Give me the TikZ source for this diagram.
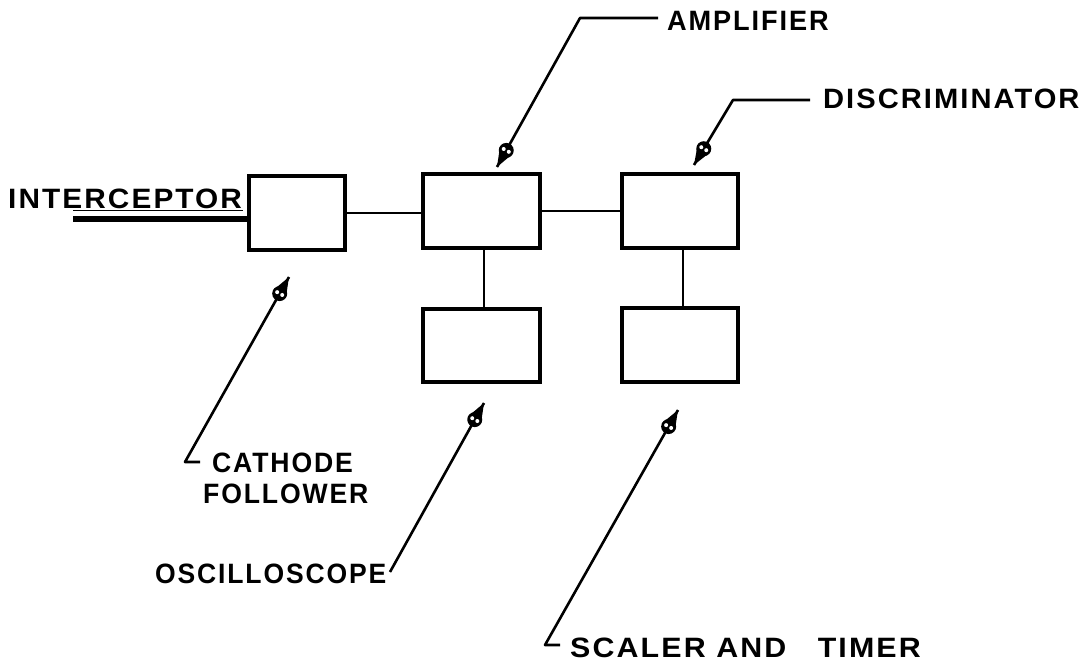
\documentclass[tikz,border=0pt]{standalone}
\usepackage{fontspec}
\usepackage{graphicx}
\newfontfamily\lbl[LetterSpace=7]{Liberation Sans Bold}
\usetikzlibrary{calc}
\tikzset{
  blk/.style={draw, line width=3.4pt, minimum width=#1, minimum height=74pt, inner sep=0pt},
  wire/.style={line width=2.8pt},
  lead/.style={line width=2.6pt, line join=round},
  lbltext/.style={inner sep=0pt, font=\lbl\fontsize{28}{32}\selectfont},
}
\newcommand{\pointer}[2]{%
  \coordinate (pc) at ($(#2)!19pt!(#1)$);
  \fill (pc) circle (7.5pt);
  \fill (#2) -- ($(pc)!7.2pt!90:(#2)$) -- ($(pc)!7.2pt!-90:(#2)$) -- cycle;
  \fill[white] ($(pc)!2.9pt!90:(#2)$) circle (2pt);
  \fill[white] ($(pc)!2.9pt!-90:(#2)$) circle (2pt);
}
\begin{document}
\begin{tikzpicture}[x=1pt,y=-1pt]
\useasboundingbox[fill=white] (0,0) rectangle (1090,672);
% blocks
\node[blk=96pt]  (cf)   at (297,213)   {};
\node[blk=117pt] (amp)  at (481.5,211) {};
\node[blk=116pt] (disc) at (680,211)   {};
\node[blk=117pt, minimum height=73pt] (osc) at (481.5,345.5) {};
\node[blk=116pt] (sc)   at (680,345)   {};
% connections
\draw[wire] (cf.east) -- (amp.west |- cf.east);
\draw[wire] (amp.east) -- (disc.west);
\draw[wire] ([xshift=2.5pt]amp.south) -- ([xshift=2.5pt]osc.north);
\draw[wire] ([xshift=3pt]disc.south) -- ([xshift=3pt]sc.north);
% interceptor
\node[lbltext, anchor=base west] (tint) at (8,208) {\scalebox{1.064}[1]{INTERCEPTOR}};
\coordinate (ic) at (73,219);
\draw[line width=5.5pt] (ic) -- (ic -| cf.west);
\coordinate (ul) at (73,210.5);
\draw[line width=1.8pt] (ul) -- (243,210.5);
% labels
\node[lbltext, anchor=base west] (tamp)  at (667,30)  {\scalebox{0.97}[1]{AMPLIFIER}};
\node[lbltext, anchor=base west] (tdisc) at (823,108) {\scalebox{1.04}[1]{DISCRIMINATOR}};
\node[lbltext, anchor=base west] (tcat)  at (212,472) {\scalebox{0.95}[1]{CATHODE}};
\node[lbltext, anchor=base west] (tfol)  at (203,503) {\scalebox{0.95}[1]{FOLLOWER}};
\node[lbltext, anchor=base west] (tosc)  at (155,583) {\scalebox{0.947}[1]{OSCILLOSCOPE}};
\node[lbltext, anchor=base west] (tsc)   at (570,657) {\scalebox{1.085}[1]{SCALER AND\hspace*{29pt}TIMER}};
% leaders
\coordinate (a1) at (658,18);  \coordinate (a2) at (580,18);  \coordinate (at) at (497,167);
\coordinate (d1) at (810,100); \coordinate (d2) at (733,100); \coordinate (dt) at (694,165);
\coordinate (c1) at (200,462); \coordinate (c2) at (185,462); \coordinate (ct) at (289,277);
\coordinate (o2) at (390,572); \coordinate (ot) at (484,403);
\coordinate (s1) at (560,645); \coordinate (s2) at (545,645); \coordinate (st) at (678,410);
\draw[lead] (a1) -- (a2) -- (at); \pointer{a2}{at}
\draw[lead] (d1) -- (d2) -- (dt); \pointer{d2}{dt}
\draw[lead] (c1) -- (c2) -- (ct); \pointer{c2}{ct}
\draw[lead] (o2) -- (ot); \pointer{o2}{ot}
\draw[lead] (s1) -- (s2) -- (st); \pointer{s2}{st}
\end{tikzpicture}
\end{document}
